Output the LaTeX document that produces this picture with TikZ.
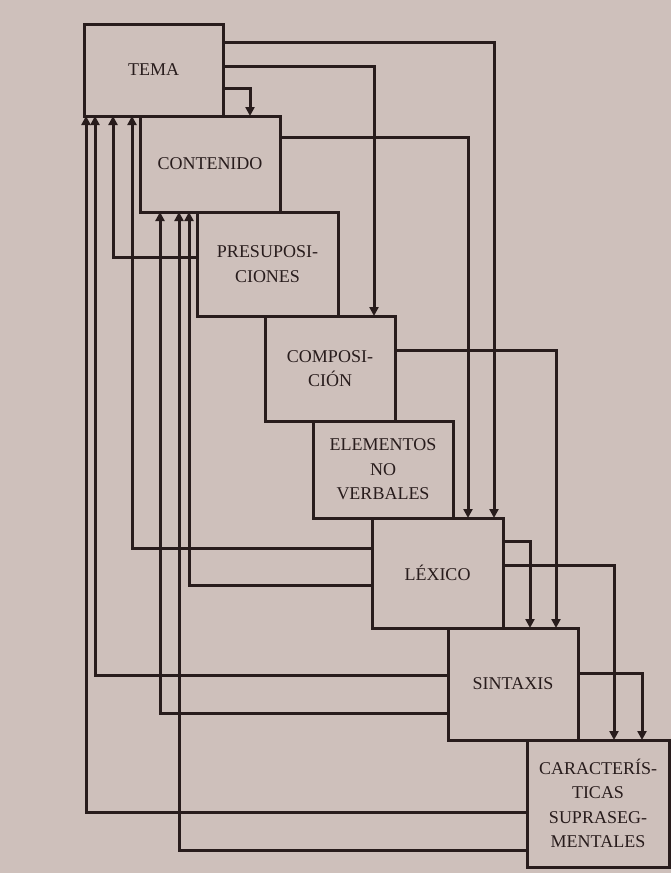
\documentclass[tikz,border=0pt]{standalone}
\usepackage{fontspec}
\setmainfont{Liberation Serif}
\usetikzlibrary{calc,arrows.meta,positioning}
\definecolor{paper}{RGB}{206,192,187}
\definecolor{ink}{RGB}{40,28,28}
\tikzset{
	stage/.style={
		draw=ink, line width=3pt, rectangle, outer sep=0pt,
		inner sep=2pt, align=center, text=ink,
		font=\fontsize{18}{24.5}\selectfont
	},
	down_arrow/.style={draw=ink, line width=3pt, -{Triangle[length=9pt,width=9pt]}},
	back_arrow/.style={down_arrow}
}
\begin{document}
\begin{tikzpicture}[x=1pt,y=-1pt]
				\fill[paper] (0,0) rectangle (671,873);
				\node[stage, minimum width=139pt, minimum height=92pt, anchor=north west] (tema) at (84,24) {TEMA};
				\node[stage, minimum width=140pt, minimum height=96pt, anchor=north west] (contenido) at ([xshift=56pt]tema.south west) {CONTENIDO};
				\node[stage, minimum width=141pt, minimum height=104pt, anchor=north west] (presup) at ([xshift=57pt]contenido.south west) {PRESUPOSI-\\CIONES};
				\node[stage, minimum width=130pt, minimum height=105pt, anchor=north west] (compos) at ([xshift=68pt]presup.south west) {COMPOSI-\\CIÓN};
				\node[stage, minimum width=140pt, minimum height=97pt, anchor=north west] (noverbal) at ([xshift=48pt]compos.south west) {ELEMENTOS\\NO\\VERBALES};
				\node[stage, minimum width=131pt, minimum height=110pt, anchor=north west] (lexico) at ([xshift=59pt]noverbal.south west) {LÉXICO};
				\node[stage, minimum width=130pt, minimum height=112pt, anchor=north west] (sintaxis) at ([xshift=76pt]lexico.south west) {SINTAXIS};
				\node[stage, minimum width=142pt, minimum height=127pt, anchor=north west] (supraseg) at ([xshift=79pt]sintaxis.south west) {CARACTERÍS-\\TICAS\\SUPRASEG-\\MENTALES};
				% hacia abajo
				\draw[down_arrow] ($(tema.north east)+(0,18)$) -| ($(lexico.north east)+(-9,0)$);
				\draw[down_arrow] ($(tema.north east)+(0,42)$) -| ($(compos.north east)+(-21,0)$);
				\draw[down_arrow] ($(tema.north east)+(0,64)$) -| ($(contenido.north east)+(-30,0)$);
				\draw[down_arrow] ($(contenido.north east)+(0,21)$) -| ($(lexico.north east)+(-35,0)$);
				\draw[down_arrow] ($(compos.north east)+(0,34)$) -| ($(sintaxis.north east)+(-22,0)$);
				\draw[down_arrow] ($(lexico.north east)+(0,23)$) -| ($(sintaxis.north east)+(-48,0)$);
				\draw[down_arrow] ($(lexico.north east)+(0,47)$) -| ($(supraseg.north east)+(-55,0)$);
				\draw[down_arrow] ($(sintaxis.north east)+(0,45)$) -| ($(supraseg.north east)+(-27,0)$);
				% de vuelta
				\draw[back_arrow] ($(supraseg.north west)+(0,72)$) -| ($(tema.south west)+(2,0)$);
				\draw[back_arrow] ($(sintaxis.north west)+(0,47)$) -| ($(tema.south west)+(11,0)$);
				\draw[back_arrow] ($(presup.north west)+(0,45)$) -| ($(tema.south west)+(29,0)$);
				\draw[back_arrow] ($(lexico.north west)+(0,30)$) -| ($(tema.south west)+(48,0)$);
				\draw[back_arrow] ($(sintaxis.north west)+(0,85)$) -| ($(contenido.south west)+(20,0)$);
				\draw[back_arrow] ($(supraseg.north west)+(0,110)$) -| ($(contenido.south west)+(39,0)$);
				\draw[back_arrow] ($(lexico.north west)+(0,67)$) -| ($(contenido.south west)+(49,0)$);
\end{tikzpicture}
\end{document}
